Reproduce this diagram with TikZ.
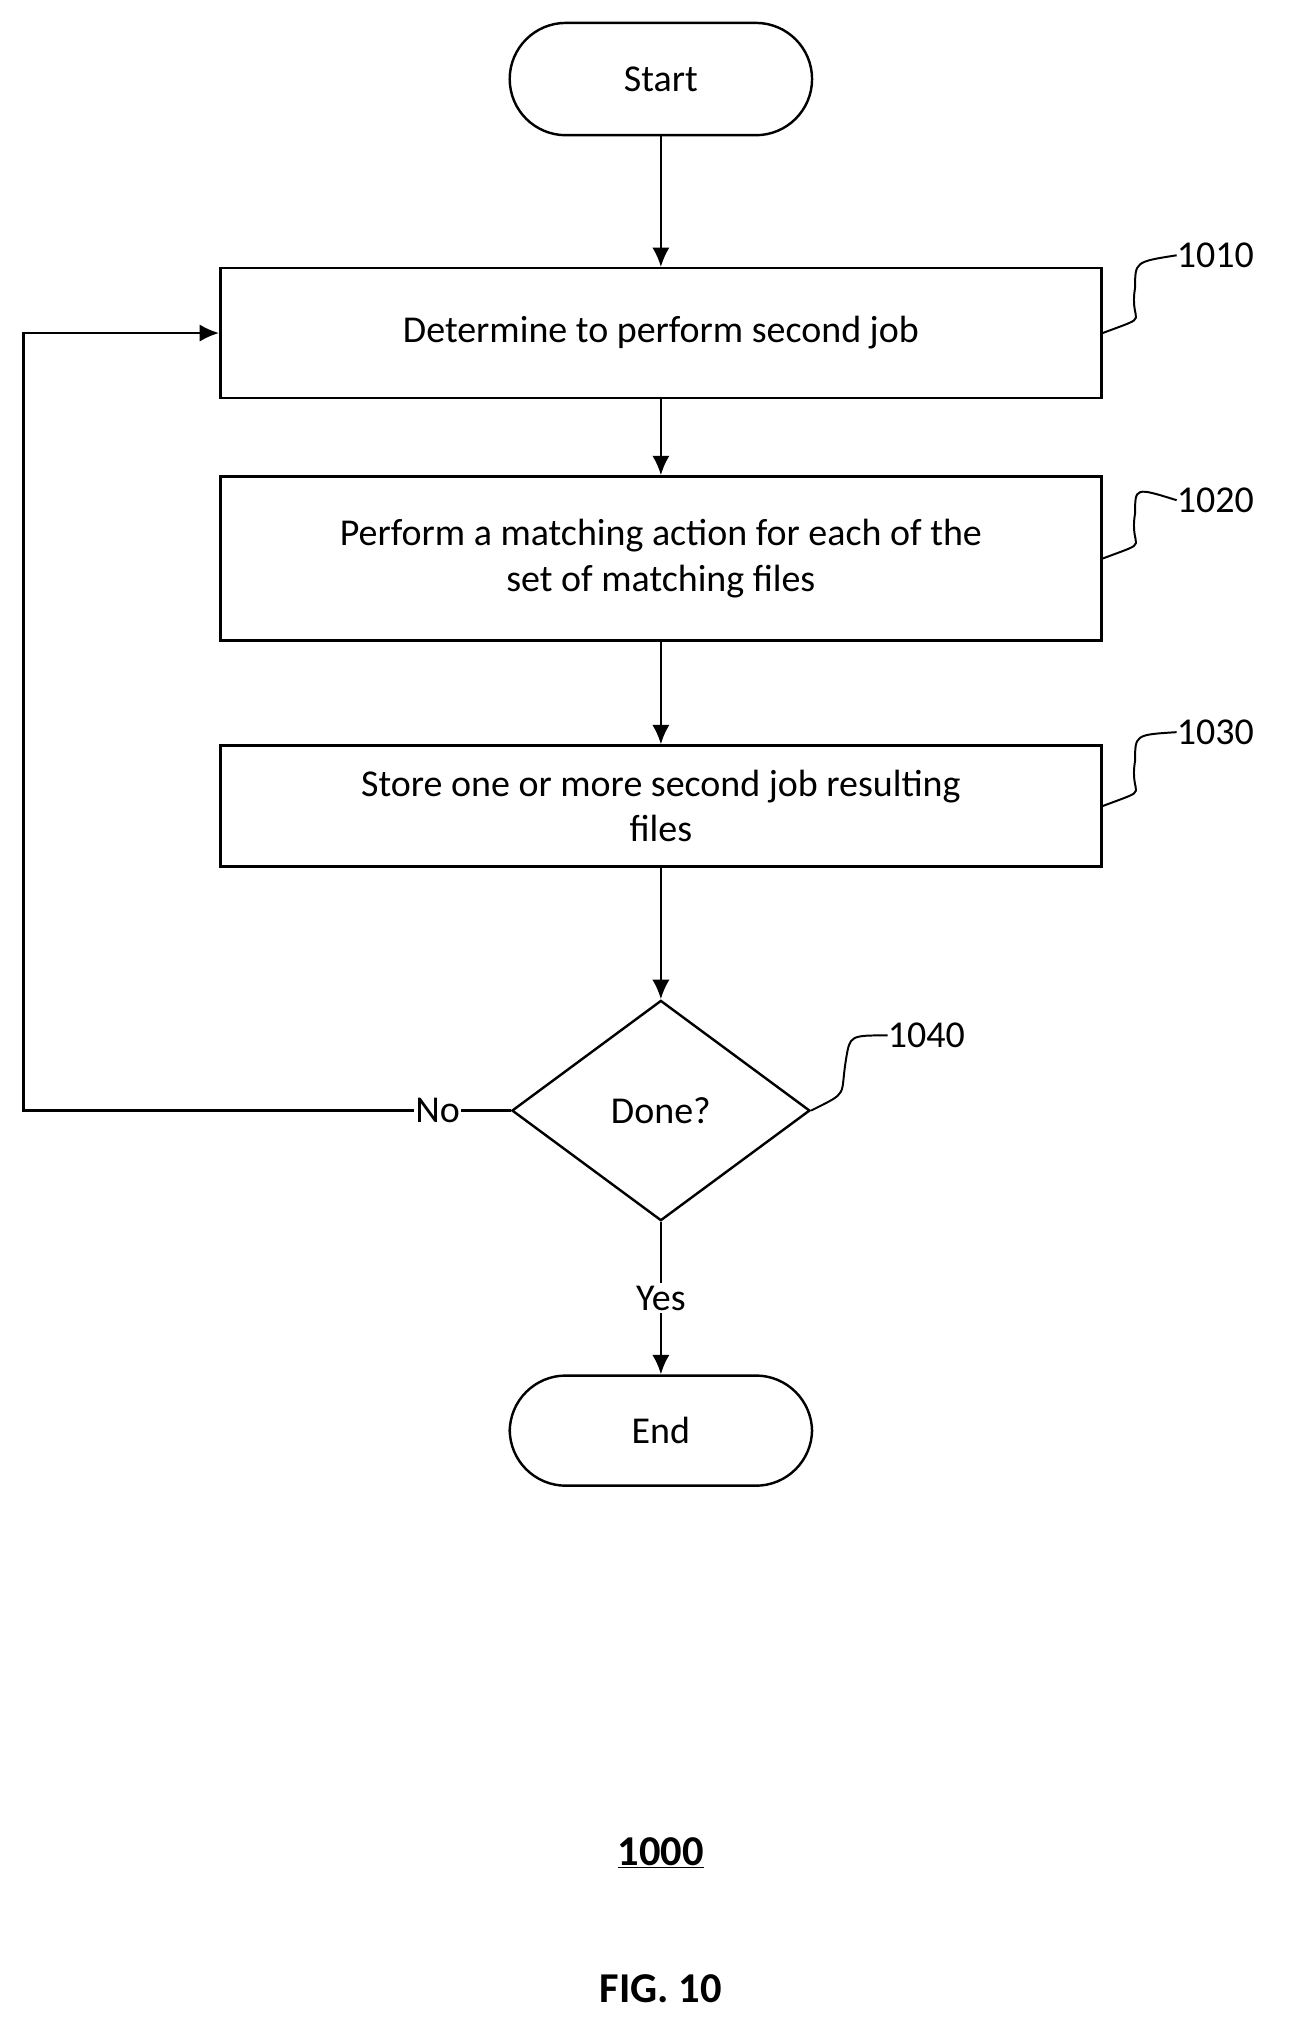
\documentclass[tikz,border=0pt]{standalone}
\usepackage{fontspec}
\setmainfont{Carlito}
\usetikzlibrary{shapes.geometric}
\usetikzlibrary{positioning}
\usetikzlibrary{arrows.meta}

\tikzset{
    proc/.style={draw, line width=1.6pt, minimum width=204mm, align=center, font=\fontsize{25}{30}\selectfont},
    term/.style={draw, line width=1.6pt, rounded corners=13mm, minimum width=70mm, minimum height=26mm, font=\fontsize{25}{30}\selectfont},
    flow/.style={line width=1.6pt, -{Latex[length=4.5mm, width=4mm]}},
    lbl/.style={font=\fontsize{25}{30}\selectfont},
}

\begin{document}
\begin{tikzpicture}[x=0.3mm,y=-0.3mm]

    \useasboundingbox (0,0) rectangle (1000,1565);

    % Terminals and steps
    \node[term] (start) at (510,61) {Start};
    \node[proc, minimum height=30mm] (s1010) at (510,257) {Determine to perform second job};
    \node[proc, minimum height=38mm, inner sep=1mm] (s1020) at (510,431) {Perform a matching action for each of the\\set of matching files};
    \node[proc, minimum height=28mm, inner sep=1mm] (s1030) at (510,622) {Store one or more second job resulting\\files};
    \node[draw, diamond, line width=1.6pt, aspect=1.35, minimum width=69mm, minimum height=51mm, inner sep=0pt, lbl] (done) at (510,857) {Done?};
    \node[term, minimum height=25.5mm] (end) at (510,1104) {End};

    % Flow
    \draw[flow] (start) -- (s1010);
    \draw[flow] (s1010) -- (s1020);
    \draw[flow] (s1020) -- (s1030);
    \draw[flow] (s1030) -- (done);
    \draw[flow] (done) -- node[fill=white, lbl, inner sep=2pt] {Yes} (end);
    \coordinate (back) at (18,857);
    \draw[flow] (done.west) -- node[fill=white, lbl, inner sep=1pt, pos=0.15] {No} (back) |- (s1010.west);

    % Reference labels
    \foreach \nm/\yy/\txt in {s1010/197/1010, s1020/386/1020, s1030/565/1030} {
        \node[lbl, anchor=west, inner sep=0pt] (l\txt) at (908,\yy) {\txt};
        \draw[line width=1.3pt] (\nm.east) .. controls +(40,-15) and +(-5,30) .. +(25,-35)
            .. controls +(0,-20) .. (l\txt.west);
    }
    \node[lbl, anchor=west, inner sep=0pt] (l1040) at (685,799) {1040};
    \draw[line width=1.3pt] (done.east) .. controls +(30,-15) and +(-5,30) .. +(27,-40)
        .. controls +(3,-18) .. (l1040.west);

    % Caption
    \node[font=\bfseries\fontsize{28}{34}\selectfont] (num) at (510,1430) {\underline{1000}};
    \node[font=\bfseries\fontsize{28}{34}\selectfont] (fig) at (510,1535) {FIG. 10};
\end{tikzpicture}
\end{document}
